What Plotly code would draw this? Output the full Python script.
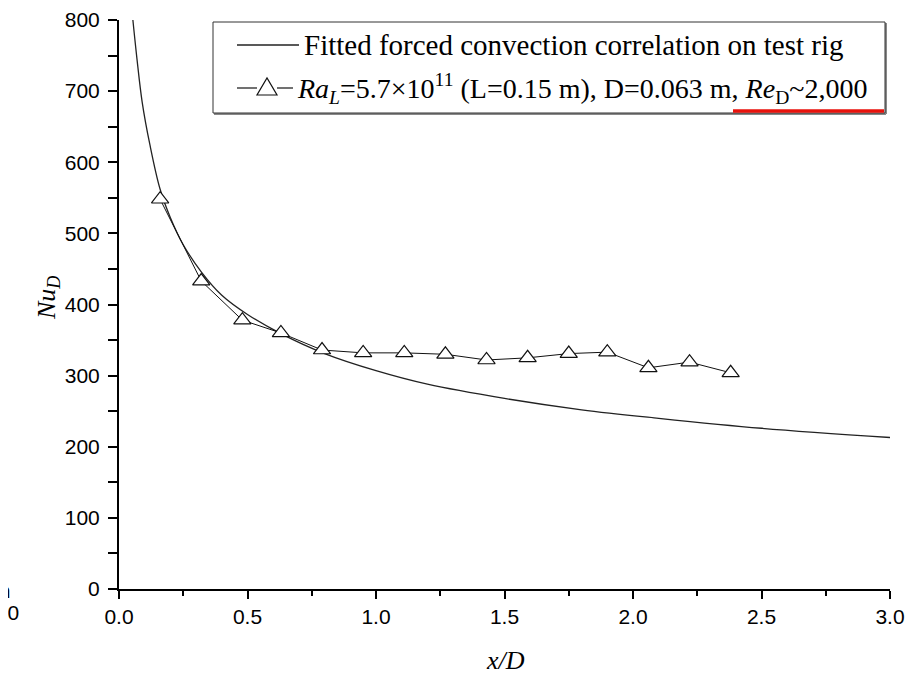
import plotly.graph_objects as go

# Measured data (triangles)
x_meas = [0.16, 0.32, 0.48, 0.63, 0.79, 0.95, 1.11, 1.27, 1.43, 1.59, 1.75, 1.90, 2.06, 2.22, 2.38]
nu_meas = [548, 433, 378, 360, 336, 332, 332, 330, 322, 325, 331, 333, 311, 319, 304]

# Fitted correlation curve
x_fit = [0.054, 0.07, 0.09, 0.12, 0.16, 0.2, 0.25, 0.32, 0.4, 0.5, 0.63, 0.8, 1.0, 1.2, 1.5, 1.8, 2.1, 2.5, 3.0]
nu_fit = [800, 745, 685, 625, 562, 522, 484, 446, 413, 386, 359, 331, 307, 288, 268, 252, 240, 226, 213]

x_ticks = [0.0, 0.5, 1.0, 1.5, 2.0, 2.5, 3.0]
y_ticks = [0, 100, 200, 300, 400, 500, 600, 700, 800]

label_fit = "Fitted forced convection correlation on test rig"
label_meas = ("<i>Ra</i><sub><i>L</i></sub>=5.7×10<sup>11</sup> (L=0.15 m), D=0.063 m, "
              "<i>Re</i><sub>D</sub>~2,000")

fig = go.Figure()
fig.add_trace(go.Scatter(
    x=x_fit, y=nu_fit, mode="lines", name=label_fit, showlegend=False,
    line=dict(color="#222222", width=1.3, shape="spline", smoothing=1.0),
))
fig.add_trace(go.Scatter(
    x=x_meas, y=nu_meas, mode="lines+markers", name=label_meas, showlegend=False,
    line=dict(color="#111111", width=1),
    marker=dict(symbol="triangle-up", size=15, color="white",
                line=dict(color="#111111", width=1.2)),
))

# page offset (body margin) compensation
OFF = 8
W, H = 921 - OFF, 674 - OFF
X0, X1, Y0, Y1 = 119, 890, 20, 589   # plot area in window pixels
L, R, T, B = X0 - OFF, (W + OFF) - X1, Y0 - OFF, (H + OFF) - Y1

fig.update_layout(
    width=W, height=H,
    margin=dict(l=L, r=R, t=T, b=B, autoexpand=False),
    paper_bgcolor="white", plot_bgcolor="white",
    showlegend=False,
    xaxis=dict(
        range=[0, 3], tickvals=x_ticks, ticktext=[f"{v:.1f}" for v in x_ticks],
        showgrid=False, zeroline=False, showline=True, linecolor="black", linewidth=2,
        ticks="outside", ticklen=8, tickwidth=2, tickcolor="black",
        minor=dict(dtick=0.25, ticks="outside", ticklen=5, tickwidth=1.5, tickcolor="black"),
        tickfont=dict(family="Liberation Sans", size=21, color="black"),
    ),
    yaxis=dict(
        range=[0, 800], tickvals=y_ticks,
        showgrid=False, zeroline=False, showline=True, linecolor="black", linewidth=2,
        ticks="outside", ticklen=9, tickwidth=2, tickcolor="black",
        minor=dict(dtick=50, ticks="outside", ticklen=9, tickwidth=2, tickcolor="black"),
        tickfont=dict(family="Liberation Sans", size=21, color="black"),
        ticklabelstandoff=4,
    ),
)

pw, ph = X1 - X0, Y1 - Y0
def px(xp):
    return (xp - X0) / pw
def py(yp):
    return (Y1 - yp) / ph

def pline(xa, ya, xb, yb, color="black", width=1):
    fig.add_shape(type="line", xref="paper", yref="paper",
                  x0=px(xa), y0=py(ya), x1=px(xb), y1=py(yb),
                  line=dict(color=color, width=width))

# ---- legend drawn by hand ----
# shadow
pline(886, 23, 886, 114, color="#888888", width=2)
pline(214, 114, 886, 114, color="#888888", width=2)
fig.add_shape(type="rect", xref="paper", yref="paper",
              x0=px(213), y0=py(22), x1=px(885), y1=py(113),
              line=dict(color="#333333", width=1), fillcolor="white", layer="above")
# entry 1
pline(237, 45, 299, 45, color="#222222", width=1.3)
fig.add_annotation(text=label_fit, xref="paper", yref="paper",
                   x=px(302), y=py(45), xanchor="left", yanchor="middle", showarrow=False,
                   font=dict(family="Liberation Serif", size=29, color="black"))
# entry 2
pline(237, 88, 257, 88, color="#111111", width=1.2)
pline(277, 88, 293, 88, color="#111111", width=1.2)
tri = "M {} {} L {} {} L {} {} Z".format(px(257), py(95), px(277), py(95), px(267), py(78))
fig.add_shape(type="path", xref="paper", yref="paper", path=tri,
              line=dict(color="#111111", width=1.2), fillcolor="white")
fig.add_annotation(text=label_meas, xref="paper", yref="paper",
                   x=px(295), y=py(88), xanchor="left", yanchor="middle", showarrow=False,
                   font=dict(family="Liberation Serif", size=28, color="black"))
# red underline
pline(733, 111, 884, 111, color="#e8120c", width=3.5)

# axis titles
fig.add_annotation(
    text="<i>Nu</i><sub><i>D</i></sub>", xref="paper", yref="paper",
    x=px(48), y=py(298), textangle=-90, showarrow=False,
    xanchor="center", yanchor="middle",
    font=dict(family="Liberation Serif", size=26, color="black"),
)
fig.add_annotation(
    text="<i>x/D</i>", xref="paper", yref="paper",
    x=px(505), y=py(660), showarrow=False,
    xanchor="center", yanchor="middle",
    font=dict(family="Liberation Serif", size=26, color="black"),
)
# cropped artefacts at the left edge
fig.add_annotation(
    text="1.0", xref="paper", yref="paper", x=px(21), y=py(612),
    xanchor="right", yanchor="middle", showarrow=False,
    font=dict(family="Liberation Sans", size=21, color="black"),
)
fig.add_annotation(
    text="m", xref="paper", yref="paper", x=px(13), y=py(590),
    xanchor="right", yanchor="middle", showarrow=False,
    font=dict(family="Liberation Sans", size=21, color="black"),
)

fig.write_html("out.html")
